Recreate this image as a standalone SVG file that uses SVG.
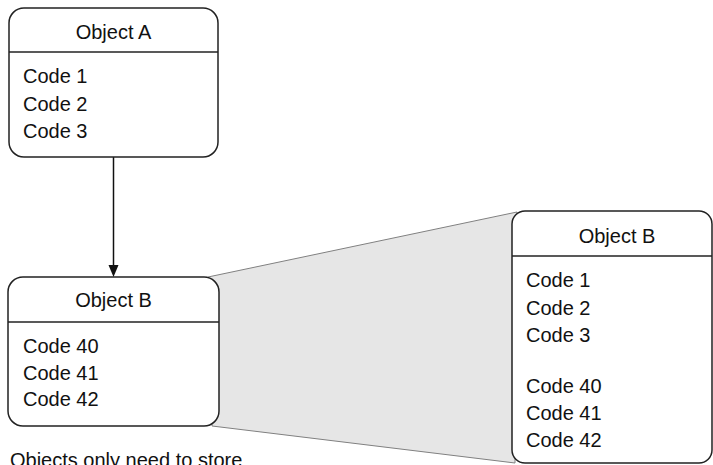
<svg xmlns="http://www.w3.org/2000/svg" width="713" height="465" viewBox="0 0 713 465">
<style>
.box{fill:#fff;stroke:#222;stroke-width:1.5}
.sep{stroke:#222;stroke-width:1.5}
text{font-family:"Liberation Sans",Arial,sans-serif;font-size:20px;fill:#111}
.t{text-anchor:middle}
</style>
<g id="zoom-shade">
<polygon points="208,277 517,212 515,463 212,426" fill="#e6e6e6" stroke="#808080" stroke-width="1"/>
</g>
<g id="connectors">
<line x1="113.5" y1="157" x2="113.5" y2="265" stroke="#111" stroke-width="1.5"/>
<path d="M108.5,265 L118.5,265 L113.5,277 Z" fill="#111"/>
</g>
<g id="objectA">
<rect class="box" x="9" y="8" width="209" height="149" rx="15"/>
<line class="sep" x1="9" y1="52" x2="218" y2="52"/>
<text class="t" x="113.5" y="39">Object A</text>
<text x="23" y="83">Code 1</text>
<text x="23" y="110.5">Code 2</text>
<text x="23" y="138">Code 3</text>
</g>
<g id="objectB-small">
<rect class="box" x="8" y="277" width="211" height="149" rx="15"/>
<line class="sep" x1="8" y1="322" x2="219" y2="322"/>
<text class="t" x="113.5" y="307">Object B</text>
<text x="23" y="353">Code 40</text>
<text x="23" y="379.5">Code 41</text>
<text x="23" y="406">Code 42</text>
</g>
<g id="objectB-large">
<rect class="box" x="512" y="211" width="200" height="252" rx="13"/>
<line class="sep" x1="512" y1="256" x2="712" y2="256"/>
<text class="t" x="617" y="243">Object B</text>
<text x="526" y="287">Code 1</text>
<text x="526" y="314.5">Code 2</text>
<text x="526" y="342">Code 3</text>
<text x="526" y="393">Code 40</text>
<text x="526" y="420">Code 41</text>
<text x="526" y="447">Code 42</text>
</g>
<g id="caption">
<text x="10" y="467">Objects only need to store</text>
</g>
</svg>
